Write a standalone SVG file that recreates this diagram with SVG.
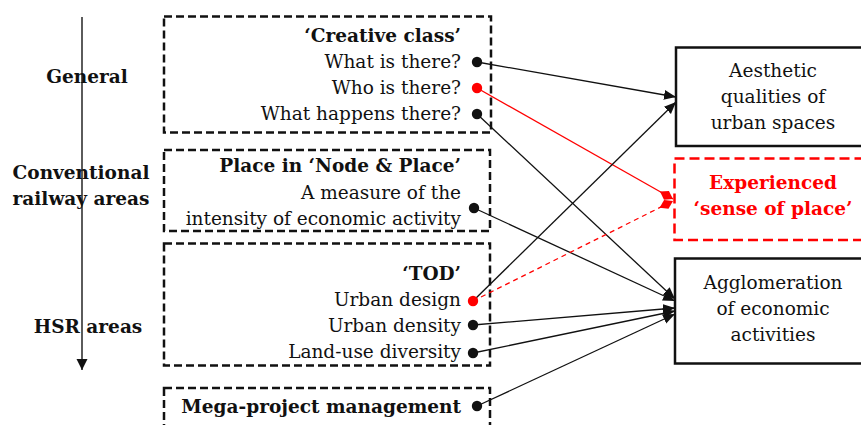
<svg xmlns="http://www.w3.org/2000/svg" width="861" height="425" viewBox="0 0 861 425">
<style>
text{font-family:"DejaVu Serif","Liberation Serif",serif;font-size:18.5px;fill:#111}
.b{font-weight:bold}
.r{text-anchor:end}
.m{text-anchor:middle}
.red{fill:#f00}
.dbox{fill:none;stroke:#111;stroke-width:2.5;stroke-dasharray:8 4}
.sbox{fill:#fff;stroke:#111;stroke-width:2.5}
.rbox{fill:none;stroke:#f00;stroke-width:2.5;stroke-dasharray:10 5}
.c{fill:none;stroke:#111;stroke-width:1.3}
.cr{fill:none;stroke:#f00;stroke-width:1.3}
.crd{fill:none;stroke:#f00;stroke-width:1.3;stroke-dasharray:5 4}
.dot{fill:#111}
.rdot{fill:#f00}
</style>
<defs>
<marker id="ah" markerUnits="userSpaceOnUse" markerWidth="13" markerHeight="11" refX="12" refY="5" orient="auto" viewBox="0 0 13 11"><path d="M0,0 L12,5 L0,10 z" fill="#111"/></marker>
<marker id="dm" markerUnits="userSpaceOnUse" markerWidth="16" markerHeight="11" refX="15" refY="5" orient="auto" viewBox="0 0 16 11"><path d="M0,5 L7.5,0 L15,5 L7.5,10 z" fill="#f00"/></marker>
<marker id="axis" markerUnits="userSpaceOnUse" markerWidth="12" markerHeight="12" refX="11" refY="5.5" orient="auto" viewBox="0 0 12 12"><path d="M0,0 L11,5.5 L0,11 z" fill="#111"/></marker>
</defs>

<g id="axis-labels">
<line x1="82" y1="17" x2="82" y2="370" stroke="#333" stroke-width="1.6" marker-end="url(#axis)"/>
<text class="b m" x="87" y="83">General</text>
<text class="b m" x="81" y="179">Conventional</text>
<text class="b m" x="81" y="205">railway areas</text>
<text class="b m" x="88" y="333">HSR areas</text>
</g>

<g id="node-creative">
<rect class="dbox" x="164" y="16.5" width="327" height="116"/>
<text class="b r" x="461" y="42">‘Creative class’</text>
<text class="r" x="461" y="68">What is there?</text>
<text class="r" x="461" y="94">Who is there?</text>
<text class="r" x="461" y="120">What happens there?</text>
</g>

<g id="node-place">
<rect class="dbox" x="164" y="150" width="326" height="81"/>
<text class="b r" x="461" y="172">Place in ‘Node &amp; Place’</text>
<text class="r" x="461" y="199">A measure of the</text>
<text class="r" x="461" y="225">intensity of economic activity</text>
</g>

<g id="node-tod">
<rect class="dbox" x="164" y="243.5" width="326" height="122"/>
<text class="b r" x="461" y="280">‘TOD’</text>
<text class="r" x="461" y="306">Urban design</text>
<text class="r" x="461" y="332">Urban density</text>
<text class="r" x="461" y="358">Land-use diversity</text>
</g>

<g id="node-mega">
<rect class="dbox" x="164" y="388" width="326" height="50"/>
<text class="b r" x="461" y="413">Mega-project management</text>
</g>

<g id="node-aesthetic">
<rect class="sbox" x="676" y="47.5" width="196" height="98.5"/>
<text class="m" x="773" y="77">Aesthetic</text>
<text class="m" x="773" y="103">qualities of</text>
<text class="m" x="773" y="129">urban spaces</text>
</g>

<g id="node-sense">
<rect class="rbox" x="674.5" y="158.5" width="196" height="81.5"/>
<text class="b m red" x="773" y="189">Experienced</text>
<text class="b m red" x="773" y="215">‘sense of place’</text>
</g>

<g id="node-agglomeration">
<rect class="sbox" x="675" y="258.5" width="196" height="105"/>
<text class="m" x="773" y="289">Agglomeration</text>
<text class="m" x="773" y="315">of economic</text>
<text class="m" x="773" y="341">activities</text>
</g>

<g id="connectors">
<line class="c" x1="477" y1="62" x2="676" y2="97" marker-end="url(#ah)"/>
<line class="cr" x1="477" y1="88" x2="673" y2="199" marker-end="url(#dm)"/>
<line class="c" x1="477" y1="114" x2="675" y2="299" marker-end="url(#ah)"/>
<line class="c" x1="474" y1="208" x2="675" y2="301" marker-end="url(#ah)"/>
<line class="c" x1="473" y1="301" x2="676" y2="102" marker-end="url(#ah)"/>
<line class="crd" x1="473" y1="301" x2="673" y2="201" marker-end="url(#dm)"/>
<line class="c" x1="473" y1="325" x2="675" y2="308" marker-end="url(#ah)"/>
<line class="c" x1="473" y1="353" x2="675" y2="311" marker-end="url(#ah)"/>
<line class="c" x1="477" y1="406" x2="675" y2="314" marker-end="url(#ah)"/>
<circle class="dot" cx="477" cy="62" r="5.2"/>
<circle class="rdot" cx="477" cy="88" r="5.2"/>
<circle class="dot" cx="477" cy="114" r="5.2"/>
<circle class="dot" cx="474" cy="208" r="5.2"/>
<circle class="rdot" cx="473" cy="301" r="5.2"/>
<circle class="dot" cx="473" cy="325" r="5.2"/>
<circle class="dot" cx="473" cy="353" r="5.2"/>
<circle class="dot" cx="477" cy="406" r="5.2"/>
</g>
</svg>
